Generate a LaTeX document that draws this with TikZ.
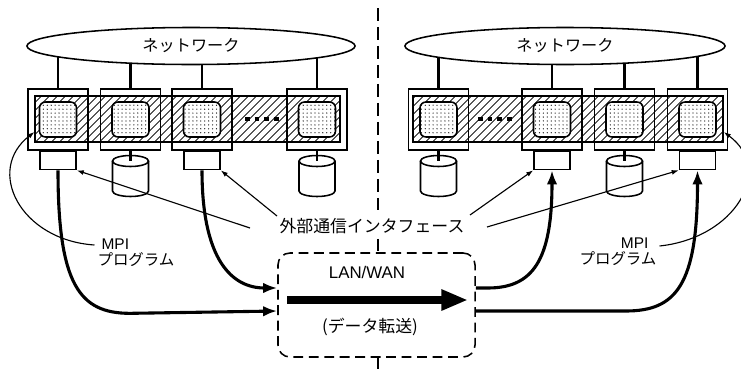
\documentclass[tikz,border=0pt]{standalone}
\usepackage{fontspec}
\setmainfont{Liberation Sans}
\newfontfamily\jp{Noto Sans CJK JP}
\usetikzlibrary{shapes.geometric,positioning,arrows.meta,patterns.meta,backgrounds}

\tikzset{
  net/.style={ellipse,draw,line width=1.1pt,fill=white,minimum height=9.25mm,inner sep=0pt,
    font=\jp\fontsize{11.5}{13}\selectfont},
  pe/.style={draw,line width=1.1pt,minimum width=15mm,minimum height=15.25mm,inner sep=0pt},
  hatch/.style={draw,line width=1.1pt,minimum height=11.5mm,inner sep=0pt,
    pattern={Lines[angle=45,distance=4pt,line width=0.7pt]}},
  cpu/.style={draw,line width=1.1pt,rounded corners=1.5mm,fill=white,minimum width=9.25mm,
    minimum height=8.75mm,inner sep=0pt,postaction={pattern={Dots[distance=2.8pt,radius=0.45pt]}}},
  nic/.style={draw,line width=1.1pt,fill=white,minimum width=9mm,minimum height=4.5mm,inner sep=0pt},
  disk/.style={line width=1.1pt,fill=white},
  tie/.style={line width=1.7pt},
  more/.style={line width=3pt,dash pattern=on 3.5pt off 3.3pt},
  link/.style={line width=2.2pt,-{Latex[length=10pt,width=7.5pt]}},
  ptr/.style={line width=0.8pt,-{Latex[length=5pt,width=3.5pt]}},
  divider/.style={line width=1.1pt,dash pattern=on 9pt off 4.5pt},
  jlabel/.style={font=\jp\fontsize{12}{14}\selectfont},
  mpi/.style={font=\fontsize{11}{11.5}\selectfont,inner sep=2pt},
}

\begin{document}
\begin{tikzpicture}[x=0.025cm,y=-0.025cm]
\useasboundingbox (0,0) rectangle (741,369);

% left cluster
\node[net,minimum width=82mm] (netL) at (191,46) {ネットワーク};
\node[hatch,minimum width=76.25mm] (bandL) at (187.5,119) {};
\foreach \n/\x in {b1/58,b2/130.5,b3/202,b4/317}{
  \node[pe] (\n) at (\x,119.5) {};
  \node[cpu] (c\n) at (\x,119.5) {};
}
\draw[more] (245,119) -- ++(34,0);
\node[nic,below=0pt of b1] (nicA) {};
\node[nic,below=0pt of b3] (nicB) {};

% right cluster
\node[net,minimum width=80mm] (netR) at (565,46) {ネットワーク};
\node[hatch,minimum width=77.5mm] (bandR) at (568,119) {};
\foreach \n/\x in {r1/438.5,r2/552,r3/624.5,r4/697.5}{
  \node[pe] (\n) at (\x,119.5) {};
  \node[cpu] (c\n) at (\x,119.5) {};
}
\draw[more] (478,119) -- ++(34,0);
\node[nic,below=0pt of r2] (nicC) {};
\node[nic,below=0pt of r4] (nicD) {};

% network ties
\begin{scope}[on background layer]
\foreach \n in {b1,b2,b3,b4}
  \draw[tie] (\n.north) -- (\n.north |- netL.center);
\foreach \n in {r1,r2,r3,r4}
  \draw[tie] (\n.north) -- (\n.north |- netR.center);
\end{scope}

% disks
\foreach \n/\x in {b2/130.5,b4/317,r1/438.5,r3/624.5}{
  \draw[disk] (\x-18,161) -- (\x-18,191)
    arc[start angle=180,end angle=0,x radius=18,y radius=5.5] -- (\x+18,161);
  \draw[disk] (\x,161) ellipse[x radius=18,y radius=5.5];
  \draw[tie] (\n.south) -- (\x,161);
}

% divider
\coordinate (top) at (378,8);
\coordinate (bot) at (378,369);

% wide area link
\node[jlabel] (ifc) at (372,226) {外部通信インタフェース};
\node[draw,line width=1.1pt,dash pattern=on 7pt off 4pt,rounded corners=3mm,
  minimum width=49.25mm,minimum height=26mm] (lan) at (376.5,305) {};
\node[font=\fontsize{12}{14}\selectfont] (wan) at (367,272) {LAN/WAN};
\node[jlabel] (xfer) at (370,327) {(データ転送)};
\coordinate (xs) at (287,300);
\coordinate (xe) at (468,300);
\draw[line width=5.5pt,-{Triangle[length=19pt,width=14pt]}] (xs) -- (xe);

\draw[divider] (top) -- (top |- ifc.north);
\draw[divider] (top |- ifc.south) -- (top |- lan.north);
\draw[divider] (top |- lan.south) -- (bot);

% data paths
\draw[link] (nicA.south) .. controls +(0,115) and +(-50,0) .. ++(72,143)
  -- ([yshift=-1.5mm]lan.west);
\draw[link] (nicB.south) .. controls +(0,90) and +(-45,0) .. ([yshift=4.25mm]lan.west);
\draw[link] ([yshift=4.25mm]lan.east) -- ++(12,0) .. controls +(45,0) and +(0,90) .. (nicC.south);
\draw[link] ([yshift=-1.5mm]lan.east) -- ++(150,0) .. controls +(50,0) and +(0,115) .. (nicD.south);

% interface pointers
\coordinate (i1) at (250,228);
\coordinate (i2) at (277,216);
\coordinate (i3) at (470,215);
\coordinate (i4) at (487,227);
\draw[ptr] (i1) -- (nicA.south east);
\draw[ptr] (i2) -- (nicB.south east);
\draw[ptr] (i3) -- (nicC.south west);
\draw[ptr] (i4) -- (nicD.south west);

% MPI programs
\node[mpi,align=left] (mpiL) at (136,253) {\hspace*{1mm}MPI\\{\jp プログラム}};
\node[mpi,align=right] (mpiR) at (618,252) {MPI\hspace*{2mm}\\{\jp プログラム}};
\draw[ptr] ([yshift=2mm]mpiL.west) .. controls (20,240) and (-15,170) .. ([yshift=-3.25mm]bandL.west);
\draw[ptr] ([yshift=1.5mm]mpiR.east) .. controls (735,238) and (775,170) .. ([yshift=-3.25mm]bandR.east);
\end{tikzpicture}
\end{document}
